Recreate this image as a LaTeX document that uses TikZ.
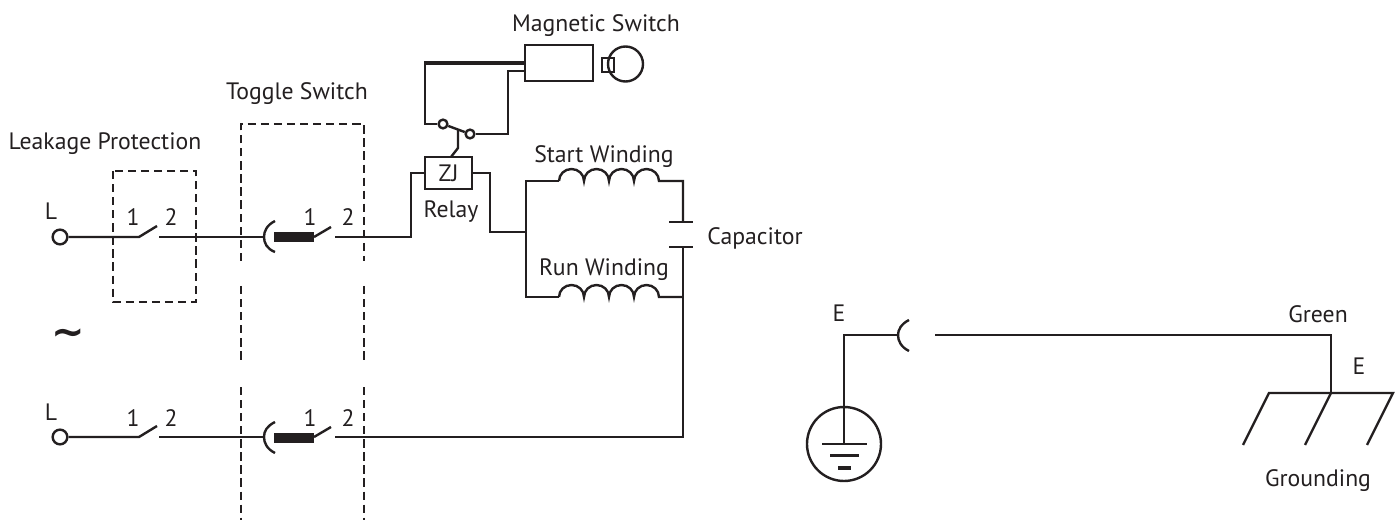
\documentclass[tikz,border=0pt]{standalone}
\usepackage{fontspec}
\setmainfont{PT Sans}
\newfontfamily\symfont{DejaVu Sans}
\definecolor{ink}{HTML}{231F20}
\tikzset{
  x=0.75pt,y=-0.75pt,
  wire/.style={draw=ink,line width=1.8pt,line join=miter},
  thickwire/.style={draw=ink,line width=2.7pt},
  dashbox/.style={draw=ink,line width=1.5pt,dash pattern=on 6.2pt off 3.6pt},
  label/.style={text=ink,font=\fontsize{17.8pt}{19pt}\selectfont,inner sep=0pt},
  term/.style={circle,draw=ink,line width=1.8pt,fill=white,minimum size=11pt,inner sep=0pt},
  smallterm/.style={circle,draw=ink,line width=1.8pt,fill=white,minimum size=6.6pt,inner sep=0pt},
  bar/.style={fill=ink,draw=none,minimum width=30.5pt,minimum height=7.5pt,inner sep=0pt},
  boxnode/.style={draw=ink,line width=1.8pt,fill=white,inner sep=0pt}
}
\begin{document}
\begin{tikzpicture}
\useasboundingbox (0,0) rectangle (1396,520);
% dashed boxes
\draw[dashbox] (113,171) rectangle (196,302);
\draw[dashbox] (241,261) -- (241,124) -- (364,124) -- (364,261);
\draw[dashbox] (241,286) -- (241,361);
\draw[dashbox] (364,286) -- (364,361);
\draw[dashbox] (241,387) -- (241,520);
\draw[dashbox] (364,387) -- (364,520);
% terminals
\node[term] (t1) at (60,237) {};
\node[term] (t2) at (60,437) {};
% top branch
\coordinate (s1a) at (139,237); \coordinate (s1b) at (157,226); \coordinate (s1c) at (159,237);
\coordinate (a1) at (264,237);
\draw[wire] (t1) -- (s1a) -- (s1b);
\draw[wire] (s1c) -- (a1);
\draw[wire] (275,221) .. controls (267,225) and (264,231) .. (264,237) .. controls (264,243) and (267,249) .. (275,252);
\node[bar] (b1) at (294,237) {};
\draw[wire] (314,237) -- (331,227);
\node[boxnode,minimum width=35.2pt,minimum height=24pt] (zj) at (448.5,173) {};
\node[label] at (448.5,173) {ZJ};
\coordinate (c1) at (335,237);
\draw[wire] (c1) -- (411,237) -- (411,173) -- (zj.west);
\coordinate (j1) at (526,232);
\draw[wire] (zj.east) -- (490,173) -- (490,232) -- (j1);
% bottom branch
\coordinate (s2a) at (139,437); \coordinate (s2b) at (157,426); \coordinate (s2c) at (159,437);
\coordinate (a2) at (264,437);
\draw[wire] (t2) -- (s2a) -- (s2b);
\draw[wire] (s2c) -- (a2);
\draw[wire] (275,422) .. controls (267,426) and (264,431) .. (264,437) .. controls (264,443) and (267,449) .. (275,453);
\node[bar] (b2) at (294,438) {};
\draw[wire] (314,437) -- (331,427);
\coordinate (c2) at (335,437);
\draw[wire] (c2) -- (683,437) -- (683,247);
% windings
\draw[wire] (559,181) -- (526,181) -- (526,297) -- (559,297);
\draw[wire] (559,181) arc (180:360:12.5 and 12) arc (180:360:12.5 and 12) arc (180:360:12.5 and 12) arc (180:360:12.5 and 12) -- (683,181) -- (683,222);
\draw[wire] (559,297) arc (180:360:12.5 and 12) arc (180:360:12.5 and 12) arc (180:360:12.5 and 12) arc (180:360:12.5 and 12) -- (683,297);
\draw[wire] (669,222) -- (693,222);
\draw[wire] (669,247) -- (693,247);
% magnetic switch
\node[boxnode,minimum width=51pt,minimum height=27pt] (ms) at (559,63) {};
\node[smallterm] (k1) at (443,124) {};
\node[smallterm] (k2) at (470,134) {};
\draw[thickwire] (ms.west |- 0,63) -- (424,63);
\draw[wire] (425,62) -- (425,124) -- (k1);
\draw[wire] (525,71) -- (508,71) -- (508,134) -- (k2);
\draw[wire] (k1) -- (k2);
\draw[wire] (458,130) -- (458,148) -- (451,157);
\draw[wire] (625.5,64) circle (17.5);
\draw[draw=ink,line width=1.5pt] (602,58) rectangle (614,72);
% ground left
\coordinate (gc) at (844,444);
\coordinate (p3) at (898,335);
\draw[wire] (gc) -- (844,335) -- (p3);
\draw[wire] (909,320) .. controls (901,324) and (898,330) .. (898,335) .. controls (898,341) and (901,347) .. (909,351);
\draw[wire] (gc) circle (37);
\draw[wire] (822,444) -- (867,444);
\draw[draw=ink,line width=2.1pt] (830,455.5) -- (859,455.5);
\draw[draw=ink,line width=2.4pt] (838,468) -- (851,468);
% ground right
\coordinate (g1) at (1331,393);
\draw[wire] (935,335) -- (1331,335) -- (g1);
\draw[wire] (1243,445) -- (1269,393) -- (1393,393) -- (1367,445);
\draw[wire] (g1) -- (1305,445);
% labels
\node[label] at (596,26) {Magnetic Switch};
\node[label] at (297,94) {Toggle Switch};
\node[label] at (105,144) {Leakage Protection};
\node[label] at (604,157) {Start Winding};
\node[label] at (451,212) {Relay};
\node[label] at (604,270) {Run Winding};
\node[label] at (755,238) {Capacitor};
\node[label] at (51,211) {L};
\node[label] at (51,412) {L};
\node[label] at (133,217) {1};
\node[label] at (171,217) {2};
\node[label] at (310,217) {1};
\node[label] at (348,217) {2};
\node[label] at (133,418) {1};
\node[label] at (171,418) {2};
\node[label] at (310,418) {1};
\node[label] at (348,418) {2};
\node[label,font=\symfont\bfseries\fontsize{30pt}{32pt}\selectfont] at (68,337) {∼};
\node[label] at (839,313) {E};
\node[label] at (1318,314) {Green};
\node[label] at (1359,366) {E};
\node[label] at (1318,481) {Grounding};
\end{tikzpicture}
\end{document}
